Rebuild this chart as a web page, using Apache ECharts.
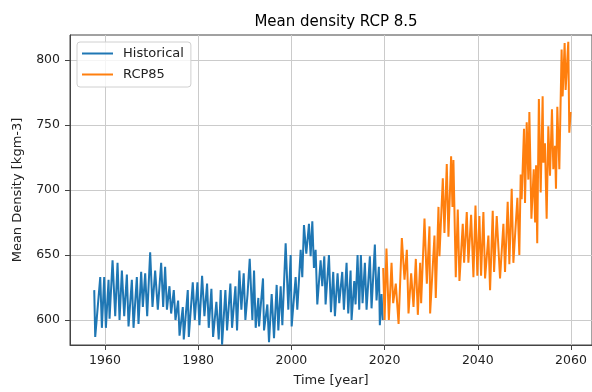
<!DOCTYPE html>
<html>
<head>
<meta charset="utf-8">
<script src="https://cdn.jsdelivr.net/npm/echarts@6/dist/echarts.min.js"></script>
<style>
  html, body { margin: 0; padding: 0; background: #fff; }
  #chart { width: 592px; height: 392px; }
</style>
</head>
<body>
<div id="chart"></div>
<script>
const xTicks = [1960, 1980, 2000, 2020, 2040, 2060];
const yTicks = [600, 650, 700, 750, 800];

const histYears = [1957.70,1957.91,1958.99,1959.34,1959.84,1960.20,1960.77,1960.99,1961.63,1962.20,1962.70,1963.13,1963.63,1964.13,1964.70,1965.06,1965.77,1966.13,1966.84,1967.20,1967.77,1968.13,1968.63,1969.06,1969.70,1970.20,1970.77,1971.34,1972.06,1972.49,1972.91,1973.30,1973.84,1974.20,1974.77,1975.13,1975.70,1976.00,1976.70,1976.91,1977.77,1977.99,1978.84,1979.27,1979.84,1980.27,1980.84,1981.34,1981.91,1982.27,1982.84,1983.20,1983.91,1984.41,1984.84,1985.13,1985.84,1986.20,1986.91,1987.27,1987.99,1988.34,1988.84,1989.27,1989.77,1990.13,1990.60,1991.06,1991.63,1991.99,1992.34,1992.91,1993.06,1993.91,1994.13,1994.84,1995.20,1995.77,1996.27,1996.84,1997.20,1997.70,1998.06,1998.77,1999.34,1999.84,2000.06,2000.91,2001.27,2001.99,2002.34,2002.70,2003.20,2003.77,2004.13,2004.49,2004.84,2005.20,2005.56,2006.27,2006.63,2007.06,2007.34,2008.06,2008.49,2008.98,2009.34,2009.91,2010.27,2010.91,2011.27,2011.84,2012.20,2012.70,2012.91,2013.49,2013.77,2014.20,2014.56,2014.91,2015.27,2015.77,2016.13,2016.84,2017.20,2017.91,2018.27,2018.77,2018.98,2019.34,2019.60];
const histValues = [623,587,633,594,633,594,631,601,646,603,644,600,638,603,635,595,631,594,633,597,637,610,636,603,652,610,638,608,644,610,641,608,626,605,623,600,615,588,610,585,623,587,629,600,629,596,634,603,628,594,624,587,614,585,623,581,623,592,628,594,626,592,638,608,636,600,620,647,600,638,594,617,595,632,592,612,583,620,586,627,592,626,596,659,608,650,595,633,608,654,633,673,651,674,649,676,640,654,612,646,626,649,612,650,606,637,603,636,613,637,608,644,605,638,600,630,612,650,608,650,613,644,608,649,609,658,615,641,596,620,600];

const rcpYears = [2019.70,2020.00,2020.40,2020.91,2021.49,2021.84,2022.40,2023.00,2023.70,2024.27,2024.77,2025.13,2025.70,2026.20,2026.70,2027.13,2027.63,2027.84,2028.56,2029.06,2029.63,2029.77,2030.70,2030.98,2031.56,2031.77,2032.49,2032.84,2033.34,2033.70,2034.27,2034.56,2034.77,2035.27,2035.70,2036.06,2036.77,2037.06,2037.63,2037.98,2038.56,2039.06,2039.50,2039.90,2040.34,2040.70,2041.20,2041.56,2042.27,2042.63,2043.20,2043.49,2044.06,2044.77,2045.49,2045.84,2046.41,2046.77,2047.27,2047.63,2048.49,2048.91,2049.20,2049.41,2049.91,2050.13,2050.49,2050.84,2051.06,2051.50,2052.00,2052.30,2052.50,2052.75,2053.10,2053.49,2053.91,2054.06,2054.41,2054.77,2055.13,2055.49,2055.91,2056.20,2056.56,2056.77,2057.06,2057.49,2057.98,2058.20,2058.63,2058.84,2059.41,2059.63,2059.91];
const rcpValues = [640,600,655,600,644,613,628,597,663,631,654,605,636,610,647,604,644,613,678,628,672,605,665,617,687,649,709,667,720,664,726,687,723,633,685,630,674,644,683,644,681,633,688,634,680,634,683,632,665,623,684,637,680,632,674,637,691,643,701,644,694,650,712,693,747,690,752,708,760,678,716,675,719,659,770,698,772,721,736,678,749,711,762,716,734,701,764,716,808,772,813,777,814,744,760];

function pairs(xs, ys) { return xs.map((x, i) => [x, ys[i]]); }

const chart = echarts.init(document.getElementById('chart'), null, { renderer: 'canvas' });
const fontFamily = 'DejaVu Sans';
chart.setOption({
  animation: false,
  backgroundColor: '#ffffff',
  textStyle: { fontFamily: fontFamily },
  title: {
    text: 'Mean density RCP 8.5',
    left: 331, top: 10, textAlign: 'center',
    textStyle: { fontFamily: fontFamily, fontSize: 15, fontWeight: 'normal', color: '#000' }
  },
  legend: {
    orient: 'vertical',
    left: 77, top: 42,
    itemWidth: 31, itemHeight: 2,
    itemGap: 8,
    icon: 'rect',
    padding: [5, 7, 6, 5],
    borderColor: '#d0d0d0', borderWidth: 1, borderRadius: 3,
    backgroundColor: 'rgba(255,255,255,0.8)',
    textStyle: { fontFamily: fontFamily, fontSize: 13, color: '#222', padding: [0, 0, 0, 5], lineHeight: 13 },
    data: ['Historical', 'RCP85']
  },
  grid: {
    left: 70, top: 35, width: 522, height: 310,
    show: true, borderColor: '#444', borderWidth: 1, backgroundColor: 'transparent'
  },
  xAxis: {
    type: 'value', min: 1952.5, max: 2064.5,
    name: 'Time [year]', nameLocation: 'middle', nameGap: 29,
    nameTextStyle: { fontFamily: fontFamily, fontSize: 13, color: '#222' },
    axisLine: { show: true, onZero: false, lineStyle: { color: '#444', width: 1 } },
    axisTick: { show: true, inside: false, length: 5, lineStyle: { color: '#444' }, customValues: xTicks },
    axisLabel: { fontFamily: fontFamily, fontSize: 12.5, color: '#222', margin: 9, customValues: xTicks, formatter: v => String(v) },
    splitLine: { show: true, lineStyle: { color: '#cbcbcb', width: 1 } }
  },
  yAxis: {
    type: 'value', min: 580.8, max: 819.2,
    name: 'Mean Density [kgm-3]', nameLocation: 'middle', nameGap: 46, nameRotate: 90,
    nameTextStyle: { fontFamily: fontFamily, fontSize: 13, color: '#222' },
    axisLine: { show: true, onZero: false, lineStyle: { color: '#444', width: 1 } },
    axisTick: { show: true, inside: false, length: 5, lineStyle: { color: '#444' }, customValues: yTicks },
    axisLabel: { fontFamily: fontFamily, fontSize: 12.5, color: '#222', margin: 10, customValues: yTicks, formatter: v => String(v) },
    splitLine: { show: true, lineStyle: { color: '#cbcbcb', width: 1 } }
  },
  series: [
    {
      name: 'Historical', type: 'line', data: pairs(histYears, histValues),
      showSymbol: false, symbol: 'none', color: '#1f77b4',
      lineStyle: { color: '#1f77b4', width: 2 }
    },
    {
      name: 'RCP85', type: 'line', data: pairs(rcpYears, rcpValues),
      showSymbol: false, symbol: 'none', color: '#ff7f0e',
      lineStyle: { color: '#ff7f0e', width: 2 }
    }
  ]
});
</script>
</body>
</html>
